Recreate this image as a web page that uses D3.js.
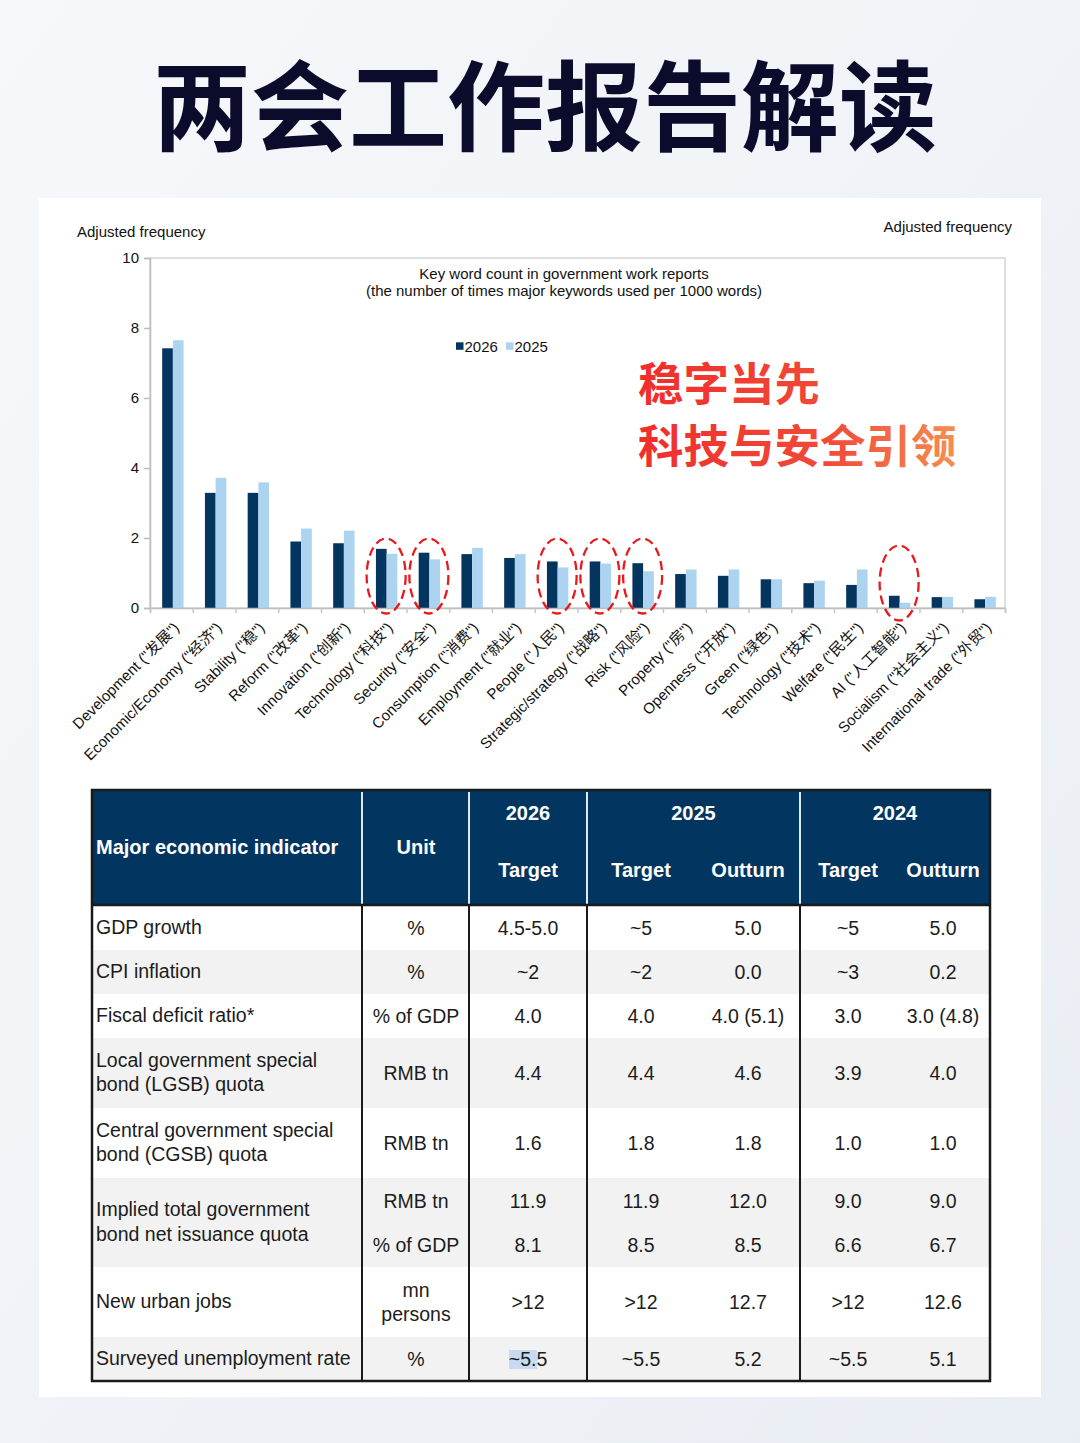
<!DOCTYPE html>
<html>
<head>
<meta charset="utf-8">
<script src="https://cdn.jsdelivr.net/npm/d3@7"></script>
<style>
  body { margin: 0; }
  svg { display: block; }
</style>
</head>
<body>
<div id="chart"></div>
<script>
// ---- keyword chart data ----
const categories = [
  'Development ("发展")', 'Economic/Economy ("经济")', 'Stability ("稳")', 'Reform ("改革")',
  'Innovation ("创新")', 'Technology ("科技")', 'Security ("安全")', 'Consumption ("消费")',
  'Employment ("就业")', 'People ("人民")', 'Strategic/strategy ("战略")', 'Risk ("风险")',
  'Property ("房")', 'Openness ("开放")', 'Green ("绿色")', 'Technology ("技术")',
  'Welfare ("民生")', 'AI ("人工智能")', 'Socialism ("社会主义")', 'International trade ("外贸")'
];
const values2026 = [7.42, 3.29, 3.29, 1.90, 1.85, 1.69, 1.58, 1.54, 1.43, 1.33,
                    1.33, 1.28, 0.97, 0.92, 0.82, 0.71, 0.66, 0.35, 0.31, 0.25];
const values2025 = [7.65, 3.72, 3.59, 2.27, 2.21, 1.55, 1.39, 1.72, 1.54, 1.16,
                    1.27, 1.05, 1.10, 1.10, 0.82, 0.78, 1.10, 0.15, 0.32, 0.32];
const seriesNames = ['2026', '2025'];
const yTicks = [0, 2, 4, 6, 8, 10];
const circled = [5, 6, 9, 10, 11, 17];

// ---- table data ----
const indicators = ['GDP growth', 'CPI inflation', 'Fiscal deficit ratio*',
  'Local government special\nbond (LGSB) quota', 'Central government special\nbond (CGSB) quota',
  'Implied total government\nbond net issuance quota', 'New urban jobs', 'Surveyed unemployment rate'];
const units = ['%', '%', '% of GDP', 'RMB tn', 'RMB tn', ['RMB tn', '% of GDP'], 'mn\npersons', '%'];
const target2026 = ['4.5-5.0', '~2', '4.0', '4.4', '1.6', ['11.9', '8.1'], '>12', '~5.5'];
const target2025 = ['~5', '~2', '4.0', '4.4', '1.8', ['11.9', '8.5'], '>12', '~5.5'];
const outturn2025 = ['5.0', '0.0', '4.0 (5.1)', '4.6', '1.8', ['12.0', '8.5'], '12.7', '5.2'];
const target2024 = ['~5', '~3', '3.0', '3.9', '1.0', ['9.0', '6.6'], '>12', '~5.5'];
const outturn2024 = ['5.0', '0.2', '3.0 (4.8)', '4.0', '1.0', ['9.0', '6.7'], '12.6', '5.1'];
const headerYears = ['2026', '2025', '2024'];

const W = 1080, H = 1443;
const latin = '"Liberation Sans", Arial, "Noto Sans CJK SC", sans-serif';
const cjk = '"Noto Sans CJK SC", sans-serif';

const svg = d3.select('#chart').append('svg')
  .attr('width', W).attr('height', H);

const defs = svg.append('defs');
const bg = defs.append('linearGradient').attr('id', 'bg')
  .attr('x1', 0).attr('y1', 0).attr('x2', 1).attr('y2', 1);
bg.append('stop').attr('offset', '0%').attr('stop-color', '#f6f8fa');
bg.append('stop').attr('offset', '100%').attr('stop-color', '#e9eef4');
const red = defs.append('linearGradient').attr('id', 'redtxt')
  .attr('gradientUnits', 'userSpaceOnUse')
  .attr('x1', 640).attr('y1', 0).attr('x2', 955).attr('y2', 0);
red.append('stop').attr('offset', '0%').attr('stop-color', '#ef2e2b');
red.append('stop').attr('offset', '60%').attr('stop-color', '#f14a38');
red.append('stop').attr('offset', '100%').attr('stop-color', '#f68d52');

svg.append('rect').attr('width', W).attr('height', H).attr('fill', 'url(#bg)');

svg.append('text')
  .attr('x', 545).attr('y', 100)
  .attr('text-anchor', 'middle').attr('dominant-baseline', 'central')
  .style('font-family', cjk).style('font-weight', 700).style('font-size', '98px')
  .attr('fill', '#0b0b2c')
  .text('两会工作报告解读');

svg.append('rect').attr('x', 39).attr('y', 198).attr('width', 1002).attr('height', 1199)
  .attr('fill', '#ffffff');

// ---- bar chart ----
const plot = { left: 150, right: 1005, top: 258, bottom: 608 };

const x = d3.scaleBand().domain(d3.range(categories.length))
  .range([plot.left, plot.right]).padding(0);
const xSub = d3.scaleBand().domain(seriesNames).range([0, 21.4]);
const y = d3.scaleLinear().domain([0, 10]).range([plot.bottom, plot.top]);

svg.append('rect')
  .attr('x', plot.left).attr('y', plot.top)
  .attr('width', plot.right - plot.left).attr('height', plot.bottom - plot.top)
  .attr('fill', 'none').attr('stroke', '#d4d4d4').attr('stroke-width', 1.5);

const colors = { '2026': '#03355f', '2025': '#acd4f1' };
const groups = svg.append('g').selectAll('g')
  .data(categories.map((c, i) => ({ i, vals: [values2026[i], values2025[i]] })))
  .join('g')
  .attr('transform', d => `translate(${x(d.i) + x.bandwidth() / 2 - 9.2},0)`);

groups.selectAll('rect')
  .data(d => d.vals.map((v, k) => ({ key: seriesNames[k], v })))
  .join('rect')
  .attr('x', d => xSub(d.key))
  .attr('y', d => y(d.v))
  .attr('width', xSub.bandwidth())
  .attr('height', d => y(0) - y(d.v))
  .attr('fill', d => colors[d.key]);

const yAxis = svg.append('g')
  .attr('transform', `translate(${plot.left},0)`)
  .call(d3.axisLeft(y).tickValues(yTicks).tickSize(6).tickPadding(5));
yAxis.select('.domain').attr('stroke', '#bdbdbd').attr('stroke-width', 1.5);
yAxis.selectAll('.tick line').attr('stroke', '#bdbdbd').attr('stroke-width', 1.5);
yAxis.selectAll('.tick text')
  .style('font-family', latin).style('font-size', '15px').attr('fill', '#111');

// x axis baseline with boundary ticks
const xAxis = svg.append('g')
  .attr('transform', `translate(0,${plot.bottom})`)
  .call(d3.axisBottom(d3.scaleLinear().domain([0, categories.length]).range([plot.left, plot.right]))
    .tickValues(d3.range(categories.length + 1)).tickSize(5).tickFormat(''));
xAxis.select('.domain').attr('stroke', '#bdbdbd').attr('stroke-width', 1.5);
xAxis.selectAll('.tick line').attr('stroke', '#c4c4c4').attr('stroke-width', 1.5);

svg.append('g').selectAll('text')
  .data(categories)
  .join('text')
  .attr('transform', (d, i) => `translate(${x(i) + x.bandwidth() / 2 + 5},${plot.bottom + 17}) rotate(-45)`)
  .attr('text-anchor', 'end')
  .attr('dy', '0.35em')
  .style('font-family', latin).style('font-size', '15px').attr('fill', '#111')
  .text(d => d);

// dashed highlight ellipses
svg.append('g').selectAll('ellipse')
  .data(circled)
  .join('ellipse')
  .attr('cx', i => x(i) + x.bandwidth() / 2 + 1)
  .attr('cy', i => i === 17 ? 583 : 576)
  .attr('rx', 19.5).attr('ry', 37.5)
  .attr('fill', 'none').attr('stroke', '#e8191c')
  .attr('stroke-width', 2.3).attr('stroke-dasharray', '9,5');

// labels
const label = (tx, ty, t, anchor, size) => svg.append('text')
  .attr('x', tx).attr('y', ty).attr('text-anchor', anchor || 'start')
  .attr('dominant-baseline', 'central')
  .style('font-family', latin).style('font-size', (size || 15) + 'px').attr('fill', '#111')
  .text(t);
label(77, 231, 'Adjusted frequency');
label(1012, 226, 'Adjusted frequency', 'end');
label(564, 273, 'Key word count in government work reports', 'middle');
label(564, 290, '(the number of times major keywords used per 1000 words)', 'middle');

const legend = svg.append('g').attr('transform', 'translate(456,346)');
seriesNames.forEach((s, k) => {
  const g = legend.append('g').attr('transform', `translate(${k * 50},0)`);
  g.append('rect').attr('x', 0).attr('y', -3.7).attr('width', 7.5).attr('height', 7.5).attr('fill', colors[s]);
  g.append('text').attr('x', 8.5).attr('dominant-baseline', 'central')
    .style('font-family', latin).style('font-size', '15px').attr('fill', '#111').text(s);
});

['稳字当先', '科技与安全引领'].forEach((t, k) => {
  svg.append('text')
    .attr('x', 638).attr('y', 381 + k * 62)
    .attr('dominant-baseline', 'central')
    .style('font-family', cjk).style('font-weight', 700).style('font-size', '45.5px')
    .attr('fill', 'url(#redtxt)')
    .text(t);
});

// ---- table ----
const tbl = { left: 92, right: 990, top: 790, headBottom: 905 };
const rowHeights = [45, 44, 44, 70, 70, 89, 70, 44];
const colEdges = [92, 362, 469, 587, 800, 990];
const valueCols = [
  { cx: 528, vals: target2026 }, { cx: 641, vals: target2025 }, { cx: 748, vals: outturn2025 },
  { cx: 848, vals: target2024 }, { cx: 943, vals: outturn2024 }
];
const rowTops = [tbl.headBottom];
rowHeights.forEach(h => rowTops.push(rowTops[rowTops.length - 1] + h));
const tblBottom = rowTops[rowTops.length - 1];

const T = svg.append('g');
T.append('rect').attr('x', tbl.left).attr('y', tbl.top)
  .attr('width', tbl.right - tbl.left).attr('height', tbl.headBottom - tbl.top)
  .attr('fill', '#02355f');
T.selectAll('rect.row').data(rowHeights).join('rect').attr('class', 'row')
  .attr('x', tbl.left).attr('y', (d, i) => rowTops[i])
  .attr('width', tbl.right - tbl.left).attr('height', d => d)
  .attr('fill', (d, i) => i % 2 ? '#f2f2f2' : '#ffffff');

// selection highlight on "~5." in 2026 column
T.append('rect').attr('x', 509).attr('y', 1350).attr('width', 28).attr('height', 19)
  .attr('fill', '#c6dbef');

const cellText = (g, tx, cy, t, anchor, opts) => {
  const lines = t.split('\n');
  const lh = (opts && opts.lh) || 24.5;
  lines.forEach((ln, j) => {
    g.append('text')
      .attr('x', tx).attr('y', cy + (j - (lines.length - 1) / 2) * lh)
      .attr('text-anchor', anchor).attr('dominant-baseline', 'central')
      .style('font-family', latin)
      .style('font-size', ((opts && opts.size) || 19.5) + 'px')
      .style('font-weight', (opts && opts.bold) ? 700 : 400)
      .attr('fill', (opts && opts.color) || '#1c1c1c')
      .text(ln);
  });
};

// header
const hdr = { bold: true, color: '#ffffff', size: 20 };
cellText(T, 96, 847, 'Major economic indicator', 'start', hdr);
cellText(T, 416, 847, 'Unit', 'middle', hdr);
[[469, 587], [587, 800], [800, 990]].forEach((e, k) =>
  cellText(T, (e[0] + e[1]) / 2, 813, headerYears[k], 'middle', hdr));
valueCols.forEach((c, k) => cellText(T, c.cx, 870, k === 0 || k === 1 || k === 3 ? 'Target' : 'Outturn', 'middle', hdr));

// body
indicators.forEach((ind, i) => {
  const top = rowTops[i], cy = top + rowHeights[i] / 2;
  cellText(T, 96, cy - 1, ind, 'start');
  const u = units[i];
  if (Array.isArray(u)) {
    u.forEach((uu, j) => cellText(T, 416, cy + (j ? 22 : -22), uu, 'middle'));
  } else {
    cellText(T, 416, cy, u, 'middle');
  }
  valueCols.forEach(c => {
    const v = c.vals[i];
    if (Array.isArray(v)) v.forEach((vv, j) => cellText(T, c.cx, cy + (j ? 22 : -22), vv, 'middle'));
    else cellText(T, c.cx, cy, v, 'middle');
  });
});

// grid lines
colEdges.slice(1, -1).forEach(xe => {
  T.append('line').attr('x1', xe).attr('x2', xe).attr('y1', tbl.top + 2).attr('y2', tbl.headBottom)
    .attr('stroke', '#dfe7ef').attr('stroke-width', 2);
  T.append('line').attr('x1', xe).attr('x2', xe).attr('y1', tbl.headBottom).attr('y2', tblBottom)
    .attr('stroke', '#1a1a1a').attr('stroke-width', 2);
});
T.append('line').attr('x1', tbl.left).attr('x2', tbl.right)
  .attr('y1', tbl.headBottom).attr('y2', tbl.headBottom)
  .attr('stroke', '#1a1a1a').attr('stroke-width', 2.5);
T.append('rect').attr('x', tbl.left).attr('y', tbl.top)
  .attr('width', tbl.right - tbl.left).attr('height', tblBottom - tbl.top)
  .attr('fill', 'none').attr('stroke', '#1a1a1a').attr('stroke-width', 2.5);
</script>
</body>
</html>
